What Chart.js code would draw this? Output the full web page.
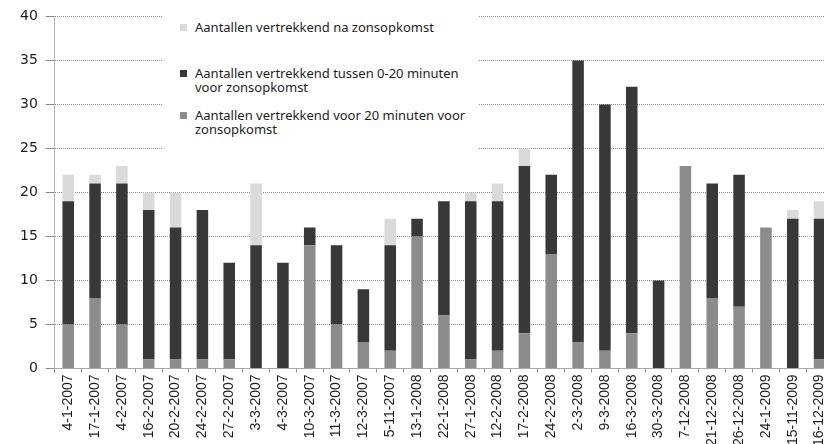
<!DOCTYPE html>
<html lang="nl">
<head>
<meta charset="utf-8">
<title>Aantallen vertrekkend</title>
<script src="https://cdn.jsdelivr.net/npm/chart.js@4.4.0/dist/chart.umd.min.js"></script>
<style>
  html, body {
    margin: 0;
    padding: 0;
    background: #fff;
    overflow: hidden;
  }
  #wrap {
    position: relative;
    width: 840px;
    height: 458px;
  }
  #legend {
    position: absolute;
    left: 163px;
    top: 8px;
    width: 315px;
    height: 146px;
    background: #fff;
    font-family: "Noto Sans", sans-serif;
    font-size: 13px;
    line-height: 14px;
    color: #1e1e1e;
  }
  .item {
    position: absolute;
    left: 17px;
  }
  .sw {
    position: absolute;
    left: 0;
    top: 4px;
    width: 7px;
    height: 7px;
  }
  .txt {
    position: absolute;
    left: 15px;
    white-space: nowrap;
  }
</style>
</head>
<body>
<div id="wrap">
  <canvas id="chart" width="840" height="458"></canvas>
  <div id="legend"></div>
</div>

<script>
// categorieen (datums)
let dates = ['4-1-2007', '17-1-2007', '4-2-2007', '16-2-2007', '20-2-2007', '24-2-2007',
  '27-2-2007', '3-3-2007', '4-3-2007', '10-3-2007', '11-3-2007', '12-3-2007', '5-11-2007',
  '13-1-2008', '22-1-2008', '27-1-2008', '12-2-2008', '17-2-2008', '24-2-2008', '2-3-2008',
  '9-3-2008', '16-3-2008', '30-3-2008', '7-12-2008', '21-12-2008', '26-12-2008',
  '24-1-2009', '15-11-2009', '16-12-2009'];

// aantallen per serie (onder -> boven)
let voor20 = [5, 8, 5, 1, 1, 1, 1, 0, 0, 14, 5, 3, 2, 15, 6, 1, 2, 4, 13, 3, 2, 4, 0, 23, 8, 7, 16, 0, 1];
let tussen = [14, 13, 16, 17, 15, 17, 11, 14, 12, 2, 9, 6, 12, 2, 13, 18, 17, 19, 9, 32, 28, 28, 10, 0, 13, 15, 0, 17, 16];
let na = [3, 1, 2, 2, 4, 0, 0, 7, 0, 0, 0, 0, 3, 0, 0, 1, 2, 2, 0, 0, 0, 0, 0, 0, 0, 0, 0, 1, 2];

let yTicks = [0, 5, 10, 15, 20, 25, 30, 35, 40];

let names = ['Aantallen vertrekkend voor 20 minuten voor zonsopkomst',
  'Aantallen vertrekkend tussen 0-20 minuten voor zonsopkomst',
  'Aantallen vertrekkend na zonsopkomst'];
// hoe de legenda de namen afbreekt
let legendLines = [
  ['Aantallen vertrekkend voor 20 minuten  voor', 'zonsopkomst'],
  ['Aantallen vertrekkend tussen 0-20 minuten', 'voor zonsopkomst'],
  ['Aantallen vertrekkend na zonsopkomst']
];
let colors = ['#8c8c8c', '#383838', '#dadada'];

let gridColor = '#8a8a8a';

let ctx = document.getElementById('chart').getContext('2d');

let chart = new Chart(ctx, {
  type: 'bar',
  data: {
    labels: dates,
    datasets: [
      { label: names[0], data: voor20, backgroundColor: colors[0] },
      { label: names[1], data: tussen, backgroundColor: colors[1] },
      { label: names[2], data: na, backgroundColor: colors[2] }
    ]
  },
  options: {
    responsive: false,
    animation: false,
    devicePixelRatio: 1,
    datasets: {
      bar: { categoryPercentage: 1, barPercentage: 0.43, borderWidth: 0 }
    },
    layout: {
      padding: { left: 12, right: 7, top: 11, bottom: 10 }
    },
    plugins: {
      legend: { display: false },
      tooltip: { enabled: false }
    },
    scales: {
      x: {
        stacked: true,
        offset: true,
        grid: {
          display: true,
          drawOnChartArea: false,
          offset: true,
          tickLength: 4,
          color: gridColor
        },
        border: { color: '#a8a8a8' },
        ticks: {
          minRotation: 90,
          maxRotation: 90,
          autoSkip: false,
          padding: 2,
          color: '#1e1e1e',
          font: { family: 'Liberation Sans', size: 14 }
        }
      },
      y: {
        stacked: true,
        min: 0,
        max: 40,
        afterBuildTicks: function (axis) {
          axis.ticks = yTicks.map(function (v) { return { value: v }; });
        },
        grid: {
          color: gridColor,
          tickLength: 9
        },
        border: { color: '#b4b4b4', dash: [1, 1] },
        ticks: {
          padding: 8,
          color: '#1e1e1e',
          font: { family: 'DejaVu Sans', size: 14 }
        }
      }
    }
  }
});

// legenda (bovenste serie eerst)
let legend = document.getElementById('legend');
let tops = [12, 58, 100];
[2, 1, 0].forEach(function (i, n) {
  let item = document.createElement('div');
  item.className = 'item';
  item.style.top = tops[n] + 'px';
  item.innerHTML = '<span class="sw" style="background:' + colors[i] + '"></span>' +
    '<span class="txt">' + legendLines[i].join('<br>') + '</span>';
  legend.appendChild(item);
});
</script>
</body>
</html>
